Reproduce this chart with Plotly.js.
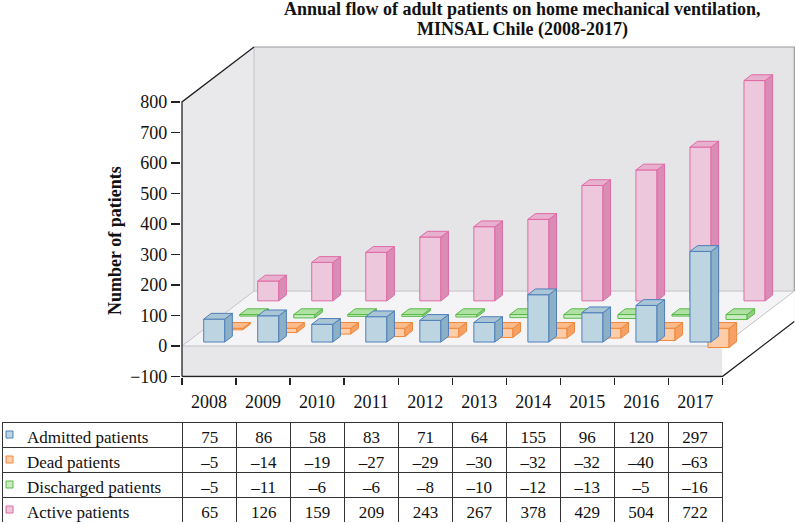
<!DOCTYPE html>
<html>
<head>
<meta charset="utf-8">
<script src="https://cdn.plot.ly/plotly-3.0.1.min.js"></script>
<style>html,body{margin:0;padding:0;background:#fff;}#chart{width:796px;height:524px;}</style>
</head>
<body>
<div id="chart"></div>
<script>
// ---------- data ----------
const years = ['2008','2009','2010','2011','2012','2013','2014','2015','2016','2017'];
const seriesNames = ['Admitted patients','Dead patients','Discharged patients','Active patients'];
const admitted   = [75, 86, 58, 83, 71, 64, 155, 96, 120, 297];
const dead       = [-5, -14, -19, -27, -29, -30, -32, -32, -40, -63];
const discharged = [-5, -11, -6, -6, -8, -10, -12, -13, -5, -16];
const active     = [65, 126, 159, 209, 243, 267, 378, 429, 504, 722];
const yTicks = [-100, 0, 100, 200, 300, 400, 500, 600, 700, 800];
const titleLines = ['Annual flow of adult patients on home mechanical ventilation,', 'MINSAL Chile (2008-2017)'];
const yTitle = 'Number of patients';

// ---------- styling / projection constants ----------
const W = 796, H = 524;
const pxPerCat = 54.03, pxPerVal = 0.3051, x0px = 182, y0px = 346;
const DX = 1.333;   // total depth offset in category units
const DY = 180;     // total depth offset in value units
const BAR_W = 0.39;
const FONT = '"Liberation Serif", "Times New Roman", Times, serif';
const palettes = [
  {front:'#bdd4e1', top:'#a9c5d6', side:'#8cb1c6', line:'#4f7fba'},
  {front:'#fdcdaa', top:'#fdbb8c', side:'#f5a064', line:'#f0883a'},
  {front:'#c9ecc2', top:'#afe1a3', side:'#90cf82', line:'#5ab94a'},
  {front:'#edc7db', top:'#e8b0cf', side:'#d98db5', line:'#e06aa6'}
];
const allSeries = [admitted, dead, discharged, active];

const xr = [-0.02, (W - x0px) / pxPerCat];
const yr = [-103, (y0px - 40) / pxPerVal];
const xDomLeft = (x0px + xr[0] * pxPerCat) / W;
const yDomBot = 1 - (y0px - yr[0] * pxPerVal) / H;
const yDomTop = 1 - 40 / H;

const traces = [];
function polyTrace(polys, fill, line, lw) {
  const xs = [], ys = [];
  polys.forEach(p => { xs.push(...p[0], p[0][0], null); ys.push(...p[1], p[1][0], null); });
  traces.push({type:'scatter', mode:'lines', x:xs, y:ys, fill: fill ? 'toself' : 'none',
    fillcolor: fill || 'rgba(0,0,0,0)', line:{color:line, width:lw === undefined ? 1 : lw},
    hoverinfo:'skip', showlegend:false, xaxis:'x', yaxis:'y'});
}
function lineTrace(xs, ys, color, lw) {
  traces.push({type:'scatter', mode:'lines', x:xs, y:ys, line:{color:color, width:lw},
    hoverinfo:'skip', showlegend:false, xaxis:'x', yaxis:'y'});
}

const nCat = years.length;
const vMin = yTicks[0], vMax = yTicks[yTicks.length - 1];
// walls
polyTrace([[[0, 0, DX, DX], [vMin, vMax, vMax + DY, vMin + DY]]], '#e9e9ec', 'rgba(0,0,0,0)', 0);
polyTrace([[[DX, nCat + DX, nCat + DX, DX], [vMin + DY, vMin + DY, vMax + DY, vMax + DY]]], '#e5e5e8', 'rgba(0,0,0,0)', 0);
// floor slab
polyTrace([[[0, nCat, nCat, 0], [vMin, vMin, 0, 0]]], '#e7e7ea', 'rgba(0,0,0,0)', 0);
polyTrace([[[nCat, nCat + DX, nCat + DX, nCat], [vMin, vMin + DY, DY, 0]]], '#ffffff', 'rgba(0,0,0,0)', 0);
polyTrace([[[0, nCat, nCat + DX, DX], [0, 0, DY, DY]]], '#f4f4f6', '#c4c4c8', 1);
// wall edges
lineTrace([DX, DX], [DY, vMax + DY], '#c4c4c8', 1);
lineTrace([DX, nCat + DX, nCat + DX], [vMax + DY, vMax + DY, DY], '#9a9a9e', 1.2);

// bars (back rows first)
for (let k = allSeries.length - 1; k >= 0; k--) {
  const vals = allSeries[k], pal = palettes[k];
  const f0 = (k + 0.29) / allSeries.length, f1 = (k + 0.71) / allSeries.length;
  const fronts = [], tops = [], sides = [];
  vals.forEach((v, i) => {
    const xl = i + 0.5 - BAR_W / 2, xrr = xl + BAR_W;
    const yt = Math.max(v, 0);
    fronts.push([[xl + f0*DX, xrr + f0*DX, xrr + f0*DX, xl + f0*DX], [f0*DY, f0*DY, v + f0*DY, v + f0*DY]]);
    tops.push([[xl + f0*DX, xrr + f0*DX, xrr + f1*DX, xl + f1*DX], [yt + f0*DY, yt + f0*DY, yt + f1*DY, yt + f1*DY]]);
    sides.push([[xrr + f0*DX, xrr + f1*DX, xrr + f1*DX, xrr + f0*DX], [f0*DY, f1*DY, v + f1*DY, v + f0*DY]]);
  });
  polyTrace(fronts, pal.front, pal.line, 1);
  polyTrace(sides, pal.side, pal.line, 1);
  polyTrace(tops, pal.top, pal.line, 1);
}

// axis lines
lineTrace([0, 0, DX], [vMin, vMax, vMax + DY], '#222222', 1.3);
lineTrace([0, nCat, nCat + DX], [vMin, vMin, vMin + DY], '#222222', 1.3);

// ---------- table ----------
const fmt = v => v < 0 ? '\u2013' + Math.abs(v) : String(v);
const pad = '\u00a0\u00a0\u00a0\u00a0';
const colVals = [seriesNames.map(s => pad + s)];
years.forEach((y, i) => colVals.push(allSeries.map(s => fmt(s[i]))));
const headerVals = colVals.map(c => c[0]);
const cellVals = colVals.map(c => c.slice(1));
const aligns = ['left'].concat(years.map(() => 'center'));
const tblTop = 422, rowH = 25;
traces.push({
  type:'table',
  domain:{x:[2 / W, 722 / W], y:[1 - (tblTop + rowH * 4) / H, 1 - tblTop / H]},
  columnwidth:[181].concat(years.map(() => 54)),
  header:{values:headerVals, align:aligns, height:rowH, fill:{color:'#ffffff'},
    line:{color:'#333333', width:1}, font:{family:FONT, size:17, color:'#111'}},
  cells:{values:cellVals, align:aligns, height:rowH, fill:{color:'#ffffff'},
    line:{color:'#333333', width:1}, font:{family:FONT, size:17, color:'#111'}}
});

const shapes = palettes.map((p, r) => {
  const cy = tblTop + rowH * r + rowH / 2;
  return {type:'rect', xref:'paper', yref:'paper', x0:6 / W, x1:13 / W,
    y0:1 - (cy + 3.5) / H, y1:1 - (cy - 3.5) / H, fillcolor:p.front, line:{color:p.line, width:1}};
});

const layout = {
  width:W, height:H, margin:{l:0, r:0, t:0, b:0},
  paper_bgcolor:'#ffffff', plot_bgcolor:'rgba(0,0,0,0)',
  showlegend:false,
  font:{family:FONT, size:17, color:'#111'},
  xaxis:{domain:[xDomLeft, 1], range:xr, tickvals:years.map((y, i) => i).concat([nCat]),
    ticks:'outside', ticklen:7, tickcolor:'#222', tickwidth:1.2, showticklabels:false,
    showgrid:false, zeroline:false, showline:false, fixedrange:true},
  xaxis2:{domain:[xDomLeft, 1], range:xr, overlaying:'x', anchor:'y', side:'bottom',
    tickvals:years.map((y, i) => i + 0.5), ticktext:years, ticks:'outside', ticklen:8,
    tickcolor:'rgba(0,0,0,0)', tickfont:{family:FONT, size:18, color:'#111'},
    showgrid:false, zeroline:false, showline:false, fixedrange:true},
  yaxis:{domain:[yDomBot, yDomTop], range:yr, tickvals:yTicks, ticks:'outside', ticklen:9,
    tickcolor:'#222', tickwidth:1.2, tickfont:{family:FONT, size:18, color:'#111'},
    showgrid:false, zeroline:false, showline:false, fixedrange:true},
  annotations:[
    {text:'<b>' + yTitle + '</b>', textangle:-90, xref:'paper', yref:'paper', xanchor:'center', yanchor:'middle',
      x:115 / W, y:1 - 240 / H, showarrow:false, font:{family:FONT, size:18, color:'#111'}},
    {text:'<b>' + titleLines[0] + '</b>', xref:'paper', yref:'paper', xanchor:'center', yanchor:'middle',
      x:522 / W, y:1 - 9 / H, showarrow:false, font:{family:FONT, size:18, color:'#111'}},
    {text:'<b>' + titleLines[1] + '</b>', xref:'paper', yref:'paper', xanchor:'center', yanchor:'middle',
      x:522 / W, y:1 - 29.5 / H, showarrow:false, font:{family:FONT, size:18, color:'#111'}}
  ],
  shapes:shapes
};
// a dummy trace on xaxis2 so the labels axis is drawn
traces.push({type:'scatter', x:[0.5], y:[0], xaxis:'x2', yaxis:'y', mode:'markers',
  marker:{opacity:0}, hoverinfo:'skip', showlegend:false});

Plotly.newPlot('chart', traces, layout, {displayModeBar:false, staticPlot:true});
</script>
</body>
</html>
